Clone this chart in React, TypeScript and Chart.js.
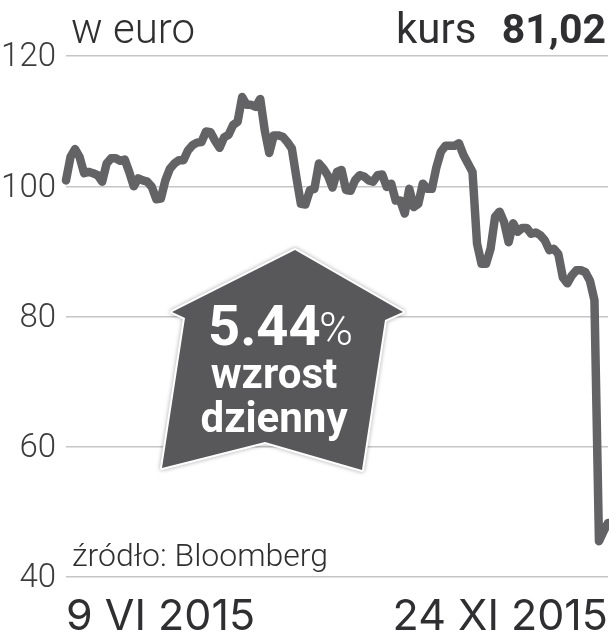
import React, { useEffect, useRef } from "react";
import { Chart, registerables } from "chart.js";

Chart.register(...registerables);

const firstDate = "9 VI 2015";
const lastDate = "24 XI 2015";
const yTicks = [40, 60, 80, 100, 120];
const prices = [
  100.9, 104.5, 105.7, 104.5, 102, 102.2, 102, 101.7, 100.7, 103.5, 104.3, 104.3, 103.9, 104.1, 102.2, 100, 101.2, 100.9, 100.7, 99.9,
  98, 98.1, 100.9, 102.7, 103.5, 104, 104, 105.5, 106.3, 106.7, 106.8, 108.4, 108.3, 107, 105.9, 107.5, 107.9, 109.4, 109.9, 113.7,
  112.5, 112.5, 112.2, 113.4, 108.6, 105.1, 107.8, 107.8, 107.6, 106.8, 105.8, 101.4, 97.3, 97.2, 99.4, 99.6, 103.5, 102.7, 101.6, 99.8,
  102.2, 102.5, 99.4, 99.3, 100.9, 101.7, 101.5, 100.9, 100.7, 101.7, 101.8, 99.9, 100.4, 97.8, 97.8, 95.8, 99.6, 96.8, 97.3, 100.4,
  99.6, 99.6, 102.9, 105.3, 106.2, 106.2, 106.2, 106.6, 104.8, 103.5, 102.2, 91.2, 88.1, 88.1, 90.4, 95.3, 96.1, 94.5, 91.4, 94.3,
  93, 93.6, 93.6, 92.7, 92.9, 92.5, 91.7, 90.2, 90.4, 89.6, 86, 85.1, 86.3, 87.1, 87.1, 86.8, 85.5, 82.5, 45.5, 47, 48.3,
];
const categories = prices.map((_, i) => (i === 0 ? firstDate : i === prices.length - 1 ? lastDate : ""));

const DARK = "#2f2f31";
const calloutPlugin = {
  id: "callout",
  afterDraw(chart: any) {
    const c = chart.ctx as CanvasRenderingContext2D;
    c.save();
    // header and source
    c.fillStyle = DARK;
    c.textBaseline = "alphabetic";
    c.textAlign = "left";
    c.font = "300 42px Roboto";
    c.fillText("w euro", 71, 43);
    c.font = "400 42px Roboto";
    c.fillText("kurs", 396, 43);
    c.font = "700 41px Roboto";
    c.textAlign = "right";
    c.fillText("81,02", 606, 43);
    c.textAlign = "left";
    c.font = "300 32px Roboto";
    c.fillText("źródło: Bloomberg", 72, 566);

    // arrow
    c.beginPath();
    c.moveTo(295, 250);
    c.lineTo(403, 312);
    c.lineTo(385, 320);
    c.lineTo(362, 470);
    c.lineTo(265, 442);
    c.lineTo(162, 468);
    c.lineTo(185, 318);
    c.lineTo(172, 312);
    c.closePath();
    c.lineJoin = "round";
    c.shadowColor = "rgba(0,0,0,0.35)";
    c.shadowBlur = 4;
    c.strokeStyle = "#ffffff";
    c.lineWidth = 4;
    c.stroke();
    c.shadowColor = "transparent";
    c.fillStyle = "#58585a";
    c.fill();

    c.fillStyle = "#ffffff";
    c.textAlign = "left";
    c.font = "700 56px Roboto";
    c.fillText("5.44", 208, 345);
    c.font = "300 46px Roboto";
    c.fillText("%", 319, 345);
    c.textAlign = "center";
    c.font = "700 42px Roboto";
    c.fillText("wzrost", 274, 388);
    c.fillText("dzienny", 274, 432);
    c.restore();
  },
};

export default function App() {
  const ref = useRef<HTMLCanvasElement>(null);
  useEffect(() => {
    const chart = new Chart(ref.current!, {
      type: "line",
      data: {
        labels: categories,
        datasets: [
          {
            data: prices,
            borderColor: "#636365",
            borderWidth: 8.5,
            pointRadius: 0,
            tension: 0,
            borderJoinStyle: "round",
            borderCapStyle: "round",
            clip: false,
          } as any,
        ],
      },
      options: {
        responsive: false,
        animation: false,
        layout: { autoPadding: false, padding: { top: 56, right: 1, left: 0, bottom: 0 } },
        plugins: { legend: { display: false }, tooltip: { enabled: false } },
        scales: {
          x: {
            offset: false,
            grid: { display: false, drawTicks: false },
            border: { display: false },
            afterFit(s: any) {
              s.height = 63;
              s.paddingLeft = 0;
              s.paddingRight = 0;
            },
            ticks: {
              autoSkip: false,
              maxRotation: 0,
              minRotation: 0,
              align: "inner",
              padding: 14,
              color: DARK,
              font: { family: "Inter", size: 43 },
            },
          },
          y: {
            min: 40,
            max: 120,
            afterFit(s: any) {
              s.width = 66;
            },
            afterBuildTicks(s: any) {
              s.ticks = yTicks.map((value) => ({ value }));
            },
            grid: { color: "#c6c6c6", lineWidth: 1.5, drawTicks: false },
            border: { display: false },
            ticks: {
              padding: 10,
              labelOffset: 2,
              color: "#3c3c3e",
              font: { family: "Roboto", size: 33, weight: "300" },
            },
          },
        },
      } as any,
      plugins: [calloutPlugin],
    });
    return () => chart.destroy();
  }, []);
  return (
    <div style={{ position: "absolute", left: 0, top: 0, width: 609, height: 640, background: "#fff" }}>
      <canvas ref={ref} width={609} height={640} style={{ display: "block" }} />
    </div>
  );
}
